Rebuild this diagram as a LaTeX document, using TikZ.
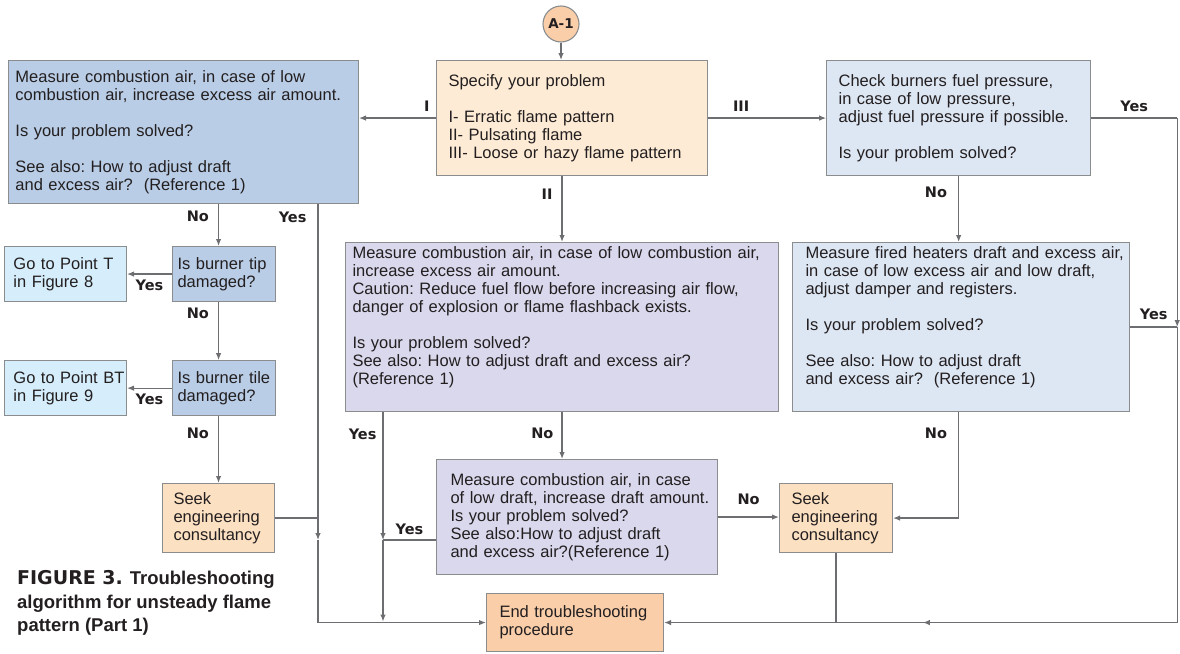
\documentclass[tikz,border=0pt]{standalone}
\usepackage{fontspec}
\setmainfont{Liberation Sans}
\newfontfamily\heavyfont{DejaVu Sans}
\usetikzlibrary{arrows.meta, positioning, decorations.markings}

\definecolor{boxline}{HTML}{8A8C8E}
\definecolor{flowline}{HTML}{6D6E71}
\definecolor{ink}{HTML}{231F20}
\definecolor{bluemid}{HTML}{B9CDE6}
\definecolor{bluelight}{HTML}{DDE6F3}
\definecolor{lavender}{HTML}{D9D8EC}
\definecolor{skyblue}{HTML}{D6EEFB}
\definecolor{peachlight}{HTML}{FDEBD5}
\definecolor{peach}{HTML}{FCE0C2}
\definecolor{peachdark}{HTML}{F9CEA9}

\newcommand{\boxfont}{\fontsize{16.5}{18}\selectfont\frenchspacing}
\newcommand{\tagfont}{\heavyfont\bfseries\fontsize{14.5}{16}\selectfont}

\begin{document}
\begin{tikzpicture}[x=1pt, y=1pt, >={Latex[length=7pt,width=5.5pt]},
  box/.style={rectangle, draw=boxline, line width=1.1pt, fill=#1, inner xsep=0pt, inner ysep=0pt,
    align=left, anchor=north west, text=ink, font=\boxfont},
  box/.default=peach,
  boxsize/.style 2 args={text width=#1pt, minimum height=#2pt},
  lpad/.style={execute at begin node={\leftskip=#1pt}},
  flow/.style={draw=flowline, line width=1.2pt},
  lbl/.style={font=\tagfont, text=ink, inner sep=1pt}]
  \useasboundingbox (0,0) rectangle (1180,-653);

  % start and first choice
  \node[circle, draw=boxline, line width=1.1pt, fill=peachdark, minimum size=36pt, inner sep=0pt, text=ink,
    font=\heavyfont\bfseries\fontsize{13.5}{14}\selectfont] (a1) at (561,-24) {A-1};
  \node[box=peachlight, boxsize={271}{115}, lpad=12] (spec) at (436,-60) {Specify your problem\\[18pt]
    I- Erratic flame pattern\\II- Pulsating flame\\III- Loose or hazy flame pattern};
  \node[box=bluemid, boxsize={350}{143}, lpad=7, left=77pt of spec.north west, anchor=north east] (l1)
    {Measure combustion air, in case of low\\combustion air, increase excess air amount.\\[18pt]
    Is your problem solved?\\[18pt]See also: How to adjust draft\\and excess air?~~(Reference 1)};
  \node[box=bluelight, boxsize={264}{115}, lpad=12, right=118pt of spec.north east, anchor=north west] (r1)
    {Check burners fuel pressure,\\in case of low pressure,\\adjust fuel pressure if possible.\\[18pt]
    Is your problem solved?};

  % second row
  \node[box=lavender, boxsize={433}{169}, lpad=7] (m1) at (345,-242)
    {Measure combustion air, in case of low combustion air,\\increase excess air amount.\\
    Caution: Reduce fuel flow before increasing air flow,\\danger of explosion or flame flashback exists.\\[18pt]
    Is your problem solved?\\See also: How to adjust draft and excess air?\\(Reference 1)\\\strut};
  \node[box=bluelight, boxsize={337}{169}, lpad=13] (r2) at (792,-242)
    {Measure fired heaters draft and excess air,\\in case of low excess air and low draft,\\
    adjust damper and registers.\\[18pt]Is your problem solved?\\[18pt]
    See also: How to adjust draft\\and excess air?~~(Reference 1)\\\strut};

  % left column
  \node[box=bluemid, boxsize={103}{55}, lpad=5] (tip) at (172,-246) {Is burner tip\\damaged?};
  \node[box=skyblue, boxsize={122}{55}, lpad=9, left=45pt of tip] (got) {Go to Point T\\in Figure 8};
  \node[box=bluemid, boxsize={103}{55}, lpad=5, below=58pt of tip] (tile) {Is burner tile\\damaged?};
  \node[box=skyblue, boxsize={122}{55}, lpad=9, left=45pt of tile] (gobt) {Go to Point BT\\in Figure 9};
  \node[box, boxsize={112}{69}, lpad=11] (c1) at (162,-483) {Seek\\engineering\\consultancy};

  % lower row
  \node[box=lavender, boxsize={281}{115}, lpad=14] (m2) at (436,-459)
    {Measure combustion air, in case\\of low draft, increase draft amount.\\Is your problem solved?\\
    See also:How to adjust draft\\and excess air?(Reference 1)};
  \node[box, boxsize={113}{69}, lpad=12] (c2) at (779,-483) {Seek\\engineering\\consultancy};
  \node[box=peachdark, boxsize={177}{58}, lpad=13] (endb) at (486,-593) {End troubleshooting\\procedure};

  \node[anchor=north west, inner sep=0pt, align=left, text=ink, font=\bfseries\fontsize{18.5}{23.5}\selectfont]
    (caption) at (17,-570.5) {{\heavyfont\fontsize{19}{23.5}\selectfont FIGURE 3.} Troubleshooting\\
    algorithm for unsteady flame\\pattern (Part 1)};

  \coordinate[right=86pt of r1.east] (rt);
  \coordinate (myes) at (383,-540);
  \coordinate (lyes) at (318,-540);

  % connectors
  \draw[flow, ->] (a1) -- (a1 |- spec.north);
  \draw[flow, ->] (spec.west) -- node[lbl, above=5pt, pos=0.12] {I} (spec.west -| l1.east);
  \draw[flow, ->] (spec.east) -- node[lbl, above=5pt, pos=0.28] {III} (spec.east -| r1.west);
  \draw[flow, ->] (m1.north |- spec.south) -- node[lbl, left=8pt, pos=0.28] {II} (m1.north);

  \draw[flow] (r1.east) -- node[lbl, above=5pt] {Yes} (rt);
  \draw[flow, ->] (rt) -- (rt |- r2.east);
  \draw[flow] (r2.east) -- node[lbl, above=6pt] {Yes} (rt |- r2.east);
  \draw[flow, ->, postaction={decorate}, decoration={markings, mark=at position 0.68 with {\arrow{>}}}]
    (rt |- r2.east) -- (rt |- endb.east) -- (endb.east);
  \draw[flow, ->] (r1.south) -- node[lbl, left=10pt, pos=0.25] {No} (r1.south |- r2.north);
  \draw[flow, ->] (r1.south |- r2.south) -- node[lbl, left=10pt, pos=0.2] {No} (r1.south |- c2.east) -- (c2.east);
  \draw[flow] (c2.south) -- (c2.south |- endb.east);

  \draw[flow, ->] (m1.south) -- node[lbl, left=7pt, pos=0.45] {No} (m1.south |- m2.north);
  \draw[flow, ->] (m2.east) -- node[lbl, above=11pt] {No} (m2.east -| c2.west);
  \draw[flow, ->] (m1.south -| myes) -- node[lbl, left=5pt, pos=0.17] {Yes} (myes);
  \draw[flow] (m2.west |- myes) -- node[lbl, above=3.5pt] {Yes} (myes);
  \draw[flow, ->, shorten >=1pt] (myes) -- (myes |- endb.west);

  \draw[flow, ->] (l1.south -| lyes) -- node[lbl, left=10pt, pos=0.04] {Yes} (lyes);
  \draw[flow] (c1.east) -- (c1.east -| lyes);
  \draw[flow, ->] (lyes) -- (lyes |- endb.west) -- (endb.west);

  \draw[flow, ->] (l1.south -| c1.north) -- node[lbl, left=8pt, pos=0.3] {No} (tip.north -| c1.north);
  \draw[flow, ->] (tip.west) -- node[lbl, below=4pt] {Yes} (got.east);
  \draw[flow, ->] (tip.south -| c1.north) -- node[lbl, left=8pt, pos=0.2] {No} (tile.north -| c1.north);
  \draw[flow, ->] (tile.west) -- node[lbl, below=4pt] {Yes} (gobt.east);
  \draw[flow, ->] (tile.south -| c1.north) -- node[lbl, left=8pt, pos=0.25] {No} (c1.north);
\end{tikzpicture}
\end{document}
